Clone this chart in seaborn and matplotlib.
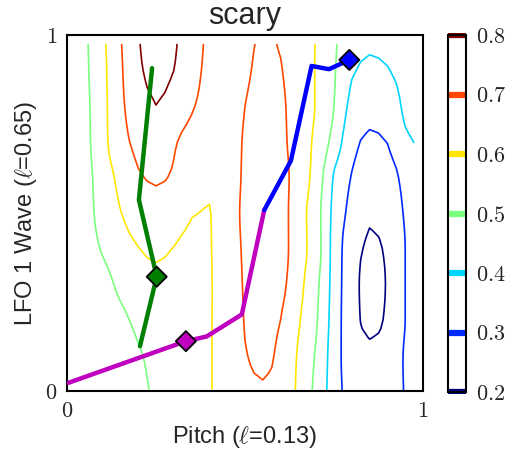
import numpy as np
import matplotlib
matplotlib.use("Agg")
import matplotlib.pyplot as plt
import seaborn as sns

# Node positions of the sampled score surface
pitch_nodes = np.linspace(0.0, 1.0, 21)
wave_nodes = np.linspace(0.0, 1.0, 11)

# Score samples, one row per LFO-wave node (bottom to top), one value per pitch node
score_w00 = [0.503, 0.41, 0.42, 0.44, 0.475, 0.515, 0.545, 0.57, 0.595, 0.63, 0.675, 0.69, 0.675, 0.58, 0.475, 0.35, 0.26, 0.245, 0.255, 0.305, 0.33]
score_w01 = [0.43, 0.41, 0.42, 0.445, 0.49, 0.525, 0.55, 0.57, 0.595, 0.635, 0.695, 0.72, 0.68, 0.59, 0.49, 0.35, 0.245, 0.22, 0.235, 0.31, 0.35]
score_w02 = [0.42, 0.425, 0.445, 0.475, 0.525, 0.555, 0.57, 0.58, 0.595, 0.635, 0.705, 0.735, 0.70, 0.61, 0.51, 0.355, 0.235, 0.18, 0.21, 0.30, 0.35]
score_w03 = [0.42, 0.43, 0.46, 0.525, 0.565, 0.58, 0.578, 0.578, 0.594, 0.64, 0.71, 0.745, 0.725, 0.63, 0.525, 0.36, 0.235, 0.172, 0.205, 0.30, 0.35]
score_w04 = [0.42, 0.45, 0.51, 0.565, 0.598, 0.615, 0.598, 0.582, 0.595, 0.645, 0.715, 0.75, 0.735, 0.64, 0.55, 0.36, 0.245, 0.185, 0.21, 0.30, 0.35]
score_w05 = [0.42, 0.46, 0.54, 0.597, 0.64, 0.66, 0.645, 0.604, 0.597, 0.65, 0.72, 0.755, 0.735, 0.64, 0.545, 0.37, 0.27, 0.213, 0.235, 0.31, 0.36]
score_w06 = [0.42, 0.465, 0.55, 0.625, 0.69, 0.712, 0.69, 0.64, 0.62, 0.65, 0.715, 0.75, 0.73, 0.655, 0.565, 0.39, 0.295, 0.245, 0.26, 0.33, 0.39]
score_w07 = [0.42, 0.47, 0.57, 0.665, 0.725, 0.757, 0.71, 0.665, 0.64, 0.655, 0.71, 0.74, 0.72, 0.655, 0.58, 0.465, 0.33, 0.283, 0.302, 0.38, 0.42]
score_w08 = [0.42, 0.475, 0.57, 0.68, 0.755, 0.799, 0.765, 0.71, 0.665, 0.655, 0.70, 0.73, 0.715, 0.655, 0.595, 0.50, 0.37, 0.335, 0.345, 0.42, 0.47]
score_w09 = [0.42, 0.48, 0.575, 0.685, 0.785, 0.825, 0.80, 0.74, 0.675, 0.66, 0.685, 0.72, 0.705, 0.65, 0.595, 0.51, 0.41, 0.38, 0.395, 0.43, 0.46]
score_w10 = [0.42, 0.485, 0.58, 0.695, 0.795, 0.85, 0.815, 0.745, 0.685, 0.665, 0.675, 0.712, 0.69, 0.645, 0.597, 0.515, 0.45, 0.425, 0.43, 0.435, 0.45]

contour_levels = [0.2, 0.3, 0.4, 0.5, 0.6, 0.7, 0.8]

# Optimisation paths through the (pitch, LFO wave) space
green_pitch = [0.239, 0.202, 0.252, 0.205]
green_wave = [0.907, 0.537, 0.321, 0.126]
magenta_pitch = [0.004, 0.334, 0.392, 0.491, 0.554]
magenta_wave = [0.023, 0.140, 0.153, 0.215, 0.508]
blue_pitch = [0.554, 0.629, 0.687, 0.736, 0.793]
blue_wave = [0.508, 0.647, 0.913, 0.904, 0.930]

# Highlighted points on each path
marker_pitch = [0.252, 0.334, 0.793]
marker_wave = [0.321, 0.140, 0.930]
marker_path = ["green", "magenta", "blue"]
path_colors = {"green": "#008000", "magenta": "#bf00bf", "blue": "#0000ff"}


def pchip_resample(nodes, values, query, axis):
    """Monotone piecewise-cubic (PCHIP) resampling of a 2-D array along one axis."""
    vals = np.moveaxis(np.asarray(values, dtype=float), axis, 0)
    n = len(nodes)
    h = nodes[1] - nodes[0]
    d = np.diff(vals, axis=0) / h
    m = np.zeros_like(vals)
    same = d[:-1] * d[1:] > 0
    denom = np.where(same, d[:-1] + d[1:], 1.0)
    m[1:-1] = np.where(same, 2 * d[:-1] * d[1:] / denom, 0.0)
    m[0] = d[0]
    m[-1] = d[-1]
    i = np.clip(np.floor((query - nodes[0]) / h + 1e-9).astype(int), 0, n - 2)
    t = ((query - nodes[i]) / h)[:, None]
    h00 = 2 * t ** 3 - 3 * t ** 2 + 1
    h10 = t ** 3 - 2 * t ** 2 + t
    h01 = -2 * t ** 3 + 3 * t ** 2
    h11 = t ** 3 - t ** 2
    out = h00 * vals[i] + h10 * h * m[i] + h01 * vals[i + 1] + h11 * h * m[i + 1]
    return np.moveaxis(out, 0, axis)


score = np.array([score_w00, score_w01, score_w02, score_w03, score_w04, score_w05,
                  score_w06, score_w07, score_w08, score_w09, score_w10])
grid_pitch = np.linspace(0.0, 1.0, 40, endpoint=False)
grid_wave = np.linspace(0.0, 1.0, 40, endpoint=False)
surface = pchip_resample(pitch_nodes, score, grid_pitch, axis=1)
surface = pchip_resample(wave_nodes, surface, grid_wave, axis=0)

sns.set_style("white")
plt.rcParams["font.family"] = ["Liberation Sans", "DejaVu Sans"]
plt.rcParams["mathtext.fontset"] = "cm"
plt.rcParams["axes.edgecolor"] = "black"
plt.rcParams["axes.linewidth"] = 1.5

fig = plt.figure(figsize=(5.12, 4.5), dpi=100)
ax = fig.add_axes([67 / 512, 59 / 450, 356 / 512, 356 / 450])
cax = fig.add_axes([448 / 512, 58 / 450, 18 / 512, 357 / 450])

cs = ax.contour(grid_pitch, grid_wave, surface, levels=contour_levels,
                cmap="jet", linewidths=1.2)

for px, wy, name in [(green_pitch, green_wave, "green"),
                     (magenta_pitch, magenta_wave, "magenta"),
                     (blue_pitch, blue_wave, "blue")]:
    sns.lineplot(x=px, y=wy, sort=False, estimator=None, color=path_colors[name],
                 linewidth=3.2, ax=ax, zorder=4)

sns.scatterplot(x=marker_pitch, y=marker_wave, hue=marker_path, palette=path_colors,
                marker="D", s=105, edgecolor="black", linewidth=1.3,
                legend=False, ax=ax, zorder=5)

ax.set_xlim(0, 1)
ax.set_ylim(0, 1)
ax.set_xticks([0, 1])
ax.set_xticklabels(["$0$", "$1$"])
ax.set_yticks([0, 1])
ax.set_yticklabels(["$0$", "$1$"])
ax.tick_params(direction="in", length=4, width=1, labelsize=16, pad=7)
ax.set_xlabel("Pitch ($\\ell$=0.13)", fontsize=17, labelpad=2)
ax.set_ylabel("LFO 1 Wave ($\\ell$=0.65)", fontsize=17, labelpad=4)
ax.set_title("scary", fontsize=22, pad=8)

cbar = fig.colorbar(cs, cax=cax)
for lc in cbar.lines:
    lc.set_linewidth(4.5)
cbar.set_ticks(contour_levels)
cbar.set_ticklabels([f"${v:.1f}$" for v in contour_levels])
cax.tick_params(direction="in", length=5, width=1, labelsize=16, pad=7)
cbar.outline.set_linewidth(1.5)
cbar.outline.set_edgecolor("black")

fig.savefig("out.png", dpi=100)
